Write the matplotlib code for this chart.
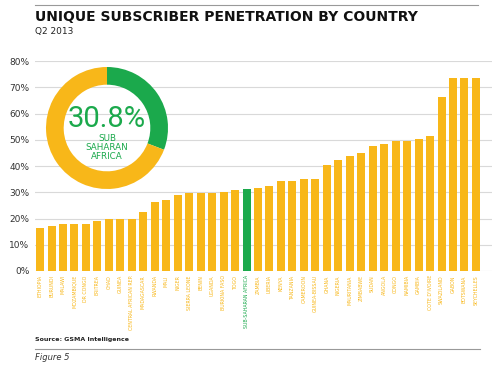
import numpy as np
import matplotlib.pyplot as plt
from matplotlib.lines import Line2D

# Data
countries = ['ETHIOPIA', 'BURUNDI', 'MALAWI', 'MOZAMBIQUE', 'DR CONGO', 'ERITREA', 'CHAD',
             'GUINEA', 'CENTRAL AFRICAN REP.', 'MADAGASCAR', 'RWANDA', 'MALI', 'NIGER',
             'SIERRA LEONE', 'BENIN', 'UGANDA', 'BURKINA FASO', 'TOGO', 'SUB-SAHARAN AFRICA',
             'ZAMBIA', 'LIBERIA', 'KENYA', 'TANZANIA', 'CAMEROON', 'GUINEA-BISSAU', 'GHANA',
             'NIGERIA', 'MAURITANIA', 'ZIMBABWE', 'SUDAN', 'ANGOLA', 'CONGO', 'NAMIBIA',
             'GAMBIA', "COTE D'IVOIRE", 'SWAZILAND', 'GABON', 'BOTSWANA', 'SEYCHELLES']
values = [16.5, 17.2, 18.0, 18.0, 18.0, 19.0, 20.0, 20.0, 20.0, 22.5, 26.2, 27.0, 29.0,
          29.8, 29.8, 29.8, 30.3, 30.8, 31.3, 31.6, 32.5, 34.3, 34.3, 35.2, 35.2, 40.5,
          42.2, 44.0, 45.0, 47.7, 48.5, 49.5, 49.5, 50.5, 51.3, 66.5, 73.7, 73.7, 73.7]
highlight = 'SUB-SAHARAN AFRICA'
ssa_share = 30.8

yellow = '#F8B719'
green = '#1BA94C'

fig = plt.figure(figsize=(5, 3.66), dpi=100)

# Main bar chart
ax = fig.add_axes([0.07, 0.2596, 0.914, 0.5734])
x = np.arange(len(countries))
colors = [green if c == highlight else yellow for c in countries]
ax.bar(x, values, width=0.7, color=colors, zorder=2)
ax.set_ylim(0, 80)
ax.set_xlim(-0.44, len(countries) - 1 + 1.4)
ax.set_yticks(np.arange(0, 81, 10))
ax.set_yticklabels([f'{v}%' for v in range(0, 81, 10)], fontsize=6.5, color='#333333')
ax.grid(axis='y', color='#d9d9d9', linewidth=0.8, zorder=0)
ax.tick_params(axis='y', length=0, pad=4)
ax.tick_params(axis='x', length=0, pad=3)
ax.set_xticks(x)
ax.set_xticklabels(countries, rotation=90, fontsize=3.4, va='top')
for lbl, c in zip(ax.get_xticklabels(), colors):
    lbl.set_color(c)
for s in ax.spines.values():
    s.set_visible(False)

# Donut inset
dax = fig.add_axes([46 / 500, (366 - 128 - 61) / 366, 122 / 500, 122 / 366])
dax.pie([ssa_share, 100 - ssa_share], colors=[green, yellow], startangle=90,
        counterclock=False, wedgeprops=dict(width=0.29, edgecolor='none'))
dax.set_xlim(-1, 1)
dax.set_ylim(-1, 1)
dax.set_aspect('equal')
dax.text(0, 0.14, f'{ssa_share}%', ha='center', va='center', color=green,
         fontsize=21, family='Roboto')
dax.text(0, -0.32, 'SUB\nSAHARAN\nAFRICA', ha='center', va='center', color=green,
         fontsize=6.3, linespacing=0.95)

# Titles and notes
fig.add_artist(Line2D([0.07, 0.956], [0.986, 0.986], color='#999999', linewidth=0.8))
fig.text(0.07, 0.972, 'UNIQUE SUBSCRIBER PENETRATION BY COUNTRY', fontsize=10,
         fontweight='bold', color='#111111', va='top')
fig.text(0.07, 0.925, 'Q2 2013', fontsize=6.5, color='#222222', va='top')
fig.text(0.07, 0.072, 'Source: GSMA Intelligence', fontsize=4.5, fontweight='bold',
         color='#222222', va='center')
fig.add_artist(Line2D([0.07, 0.96], [0.047, 0.047], color='#999999', linewidth=0.8))
fig.text(0.07, 0.022, 'Figure 5', fontsize=6, style='italic', color='#333333', va='center')

plt.savefig('out.png', dpi=100)
